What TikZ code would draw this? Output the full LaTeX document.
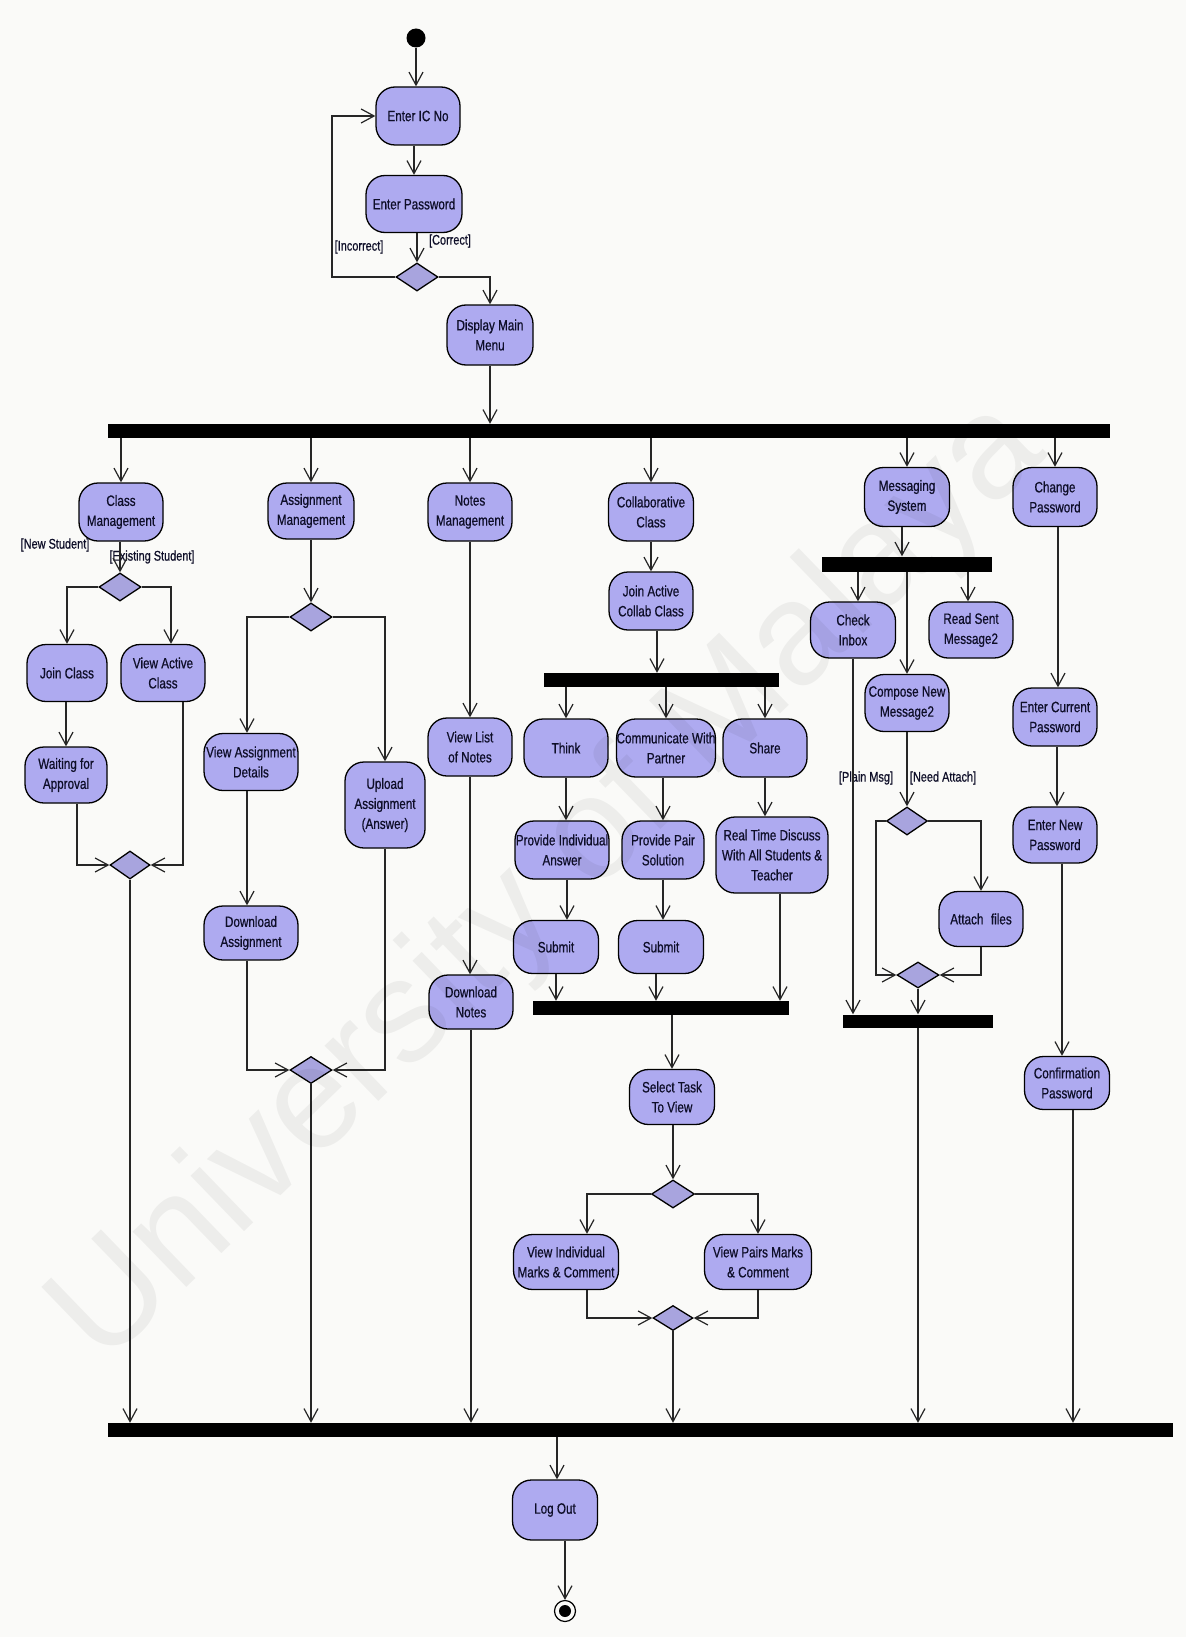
\documentclass[tikz,border=0pt]{standalone}
\usepackage{fontspec}
\usetikzlibrary{arrows.meta,shapes.geometric}
\newfontfamily\actfont[FakeStretch=0.78,FakeBold=0.6]{Liberation Sans}
\newfontfamily\wmfont{Liberation Sans}
\definecolor{actfill}{RGB}{174,170,240}
\definecolor{diafill}{RGB}{168,164,222}
\definecolor{ink}{RGB}{14,14,40}
\definecolor{paper}{RGB}{250,250,248}

\begin{document}
\begin{tikzpicture}[x=1pt,y=-1pt,
  act/.style={draw=black, fill=actfill, rounded corners=19pt, line width=1.3pt,
    inner sep=0pt, align=center, text=ink, font=\actfont\fontsize{15}{20}\selectfont},
  sz/.style 2 args={minimum width=#1pt, minimum height=#2pt},
  dia/.style={draw=black, fill=diafill, diamond, line width=1.3pt, inner sep=0pt,
    minimum width=42pt, minimum height=28pt},
  bar/.style={fill=black, inner sep=0pt, minimum height=14pt},
  flow/.style={line width=1.2pt, draw=black!85, -{Straight Barb[length=13pt,width=14pt]}},
  guard/.style={text=ink, inner sep=0pt, font=\actfont\fontsize{14}{16}\selectfont},
]
\useasboundingbox (0,0) rectangle (1186,1637);
\fill[paper] (0,0) rectangle (1186,1637);

% ---------- login ----------
\node[circle, fill=black, minimum size=19pt, inner sep=0pt] (start) at (416,38) {};
\node[act, sz={84}{58}] (ic) at (418,116) {Enter IC No};
\node[act, sz={96}{57}] (pw) at (414,204) {Enter Password};
\node[dia] (d1) at (417,277) {};
\node[act, sz={86}{60}] (menu) at (490,335) {Display Main\\Menu};
\coordinate (lp) at (332,277);
\node[guard] at (359,247) {[Incorrect]};
\node[guard] at (450,241) {[Correct]};

\draw[flow] (start) -- (start |- ic.north);
\draw[flow] (ic.south -| pw.north) -- (pw.north);
\draw[flow] (pw.south -| d1.north) -- (d1.north);
\draw[flow] (d1.west) -- (lp) |- (ic.west);
\draw[flow] (d1.east) -| (menu.north);

% ---------- main fork ----------
\node[bar, minimum width=1002pt] (fork1) at (609,431) {};
\draw[flow] (menu.south) -- (menu.south |- fork1.north);

\node[act, sz={84}{58}] (cm) at (121,512) {Class\\Management};
\node[act, sz={86}{56}] (am) at (311,511) {Assignment\\Management};
\node[act, sz={84}{58}] (nm) at (470,512) {Notes\\Management};
\node[act, sz={85}{58}] (cc) at (651,512) {Collaborative\\Class};
\node[act, sz={85}{59}] (ms) at (907,497) {Messaging\\System};
\node[act, sz={84}{59}] (cp) at (1055,497) {Change\\Password};

\foreach \n in {cm,am,nm,cc,ms,cp}
  \draw[flow] (\n.north |- fork1.south) -- (\n.north);

% ---------- final join ----------
\node[bar, minimum width=1065pt] (join) at (640.5,1430) {};

% ---------- class management ----------
\node[guard] at (55,545) {[New Student]};
\node[guard] at (152,557) {[Existing Student]};
\node[dia] (d2) at (120,587) {};
\node[act, sz={80}{57}] (jc) at (67,673) {Join Class};
\node[act, sz={84}{57}] (vac) at (163,673) {View Active\\Class};
\node[act, sz={82}{56}] (wfa) at (66,775) {Waiting for\\Approval};
\node[dia, minimum width=40pt] (m1) at (130,865) {};

\draw[flow] (cm.south -| d2.north) -- (d2.north);
\draw[flow] (d2.west) -| (jc.north);
\draw[flow] (d2.east) -| ([xshift=8pt]vac.north);
\draw[flow] (jc.south -| wfa.north) -- (wfa.north);
\draw[flow] ([xshift=11pt]wfa.south) |- (m1.west);
\draw[flow] ([xshift=20pt]vac.south) |- (m1.east);
\draw[flow] (m1.south) -- (m1.south |- join.north);

% ---------- assignment management ----------
\node[dia] (d3) at (311,617) {};
\node[act, sz={94}{57}] (vad) at (251,762) {View Assignment\\Details};
\node[act, sz={80}{86}] (upl) at (385,805) {Upload\\Assignment\\(Answer)};
\node[act, sz={94}{54}] (da) at (251,933) {Download\\Assignment};
\node[dia, minimum height=27pt] (m2) at (311,1070) {};

\draw[flow] (am.south -| d3.north) -- (d3.north);
\draw[flow] (d3.west) -| ([xshift=-4pt]vad.north);
\draw[flow] (d3.east) -| (upl.north);
\draw[flow] ([xshift=-4pt]vad.south) -- ([xshift=-4pt]da.north);
\draw[flow] ([xshift=-4pt]da.south) |- (m2.west);
\draw[flow] (upl.south) |- (m2.east);
\draw[flow] (m2.south) -- (m2.south |- join.north);

% ---------- notes management ----------
\node[act, sz={84}{58}] (vln) at (470,747) {View List\\of Notes};
\node[act, sz={84}{54}] (dn) at (471,1002) {Download\\Notes};

\draw[flow] (nm.south) -- (nm.south |- vln.north);
\draw[flow] (vln.south) -- (vln.south |- dn.north);
\draw[flow] (dn.south) -- (dn.south |- join.north);

% ---------- collaborative class ----------
\node[act, sz={84}{58}] (jac) at (651,601) {Join Active\\Collab Class};
\node[bar, minimum width=235pt] (fork2) at (661.5,680) {};
\node[act, sz={84}{58}] (think) at (566,748) {Think};
\node[act, sz={95}{58}] (cwp) at (666,748) {Communicate With\\Partner};
\node[act, sz={84}{58}] (share) at (765,748) {Share};
\node[act, sz={94}{58}] (pia) at (562,850) {Provide Individual\\Answer};
\node[act, sz={82}{58}] (pps) at (663,850) {Provide Pair\\Solution};
\node[act, sz={112}{76}] (rtd) at (772,855) {Real Time Discuss\\With All Students \&\\Teacher};
\node[act, sz={85}{53}] (sub1) at (556,947) {Submit};
\node[act, sz={85}{53}] (sub2) at (661,947) {Submit};
\node[bar, minimum width=256pt] (fork3) at (661,1008) {};
\node[act, sz={85}{55}] (stv) at (672,1097) {Select Task\\To View};
\node[dia, minimum width=43pt] (d4) at (673,1194) {};
\node[act, sz={105}{55}] (vim) at (566,1262) {View Individual\\Marks \& Comment};
\node[act, sz={107}{55}] (vpm) at (758,1262) {View Pairs Marks\\\& Comment};
\node[dia, minimum width=40pt, minimum height=25pt] (m3) at (673,1318) {};

\draw[flow] (cc.south) -- (cc.south |- jac.north);
\draw[flow] ([xshift=6pt]jac.south) -- ([xshift=6pt]jac.south |- fork2.north);
\foreach \n in {think,cwp,share}
  \draw[flow] (\n.north |- fork2.south) -- (\n.north);
\draw[flow] (think.south) -- (think.south |- pia.north);
\draw[flow] (cwp.south -| pps.north) -- (pps.north);
\draw[flow] (share.south) -- (share.south |- rtd.north);
\draw[flow] ([xshift=5pt]pia.south) -- ([xshift=5pt]pia.south |- sub1.north);
\draw[flow] (pps.south) -- (pps.south |- sub2.north);
\draw[flow] (sub1.south) -- (sub1.south |- fork3.north);
\draw[flow] ([xshift=-5pt]sub2.south) -- ([xshift=-5pt]sub2.south |- fork3.north);
\draw[flow] ([xshift=8pt]rtd.south) -- ([xshift=8pt]rtd.south |- fork3.north);
\draw[flow] (stv.north |- fork3.south) -- (stv.north);
\draw[flow] (stv.south -| d4.north) -- (d4.north);
\draw[flow] (d4.west) -| ([xshift=21pt]vim.north);
\draw[flow] (d4.east) -| (vpm.north);
\draw[flow] ([xshift=21pt]vim.south) |- (m3.west);
\draw[flow] (vpm.south) |- (m3.east);
\draw[flow] (m3.south) -- (m3.south |- join.north);

% ---------- messaging system ----------
\node[bar, minimum width=170pt, minimum height=15pt] (fork4) at (907,564) {};
\node[act, sz={85}{56}] (ci) at (853,630) {Check\\Inbox};
\node[act, sz={84}{56}] (rsm) at (971,630) {Read Sent\\Message2};
\node[act, sz={84}{57}] (cnm) at (907,703) {Compose New\\Message2};
\node[guard] at (866,778) {[Plain Msg]};
\node[guard] at (943,778) {[Need Attach]};
\node[dia, minimum width=41pt] (d5) at (907,821) {};
\node[act, sz={84}{55}] (af) at (981,919) {Attach\enspace files};
\node[dia, minimum height=26pt] (m4) at (918,975) {};
\node[bar, minimum width=150pt, minimum height=13pt] (fork5) at (918,1021) {};
\coordinate (pm) at (876,821);

\draw[flow] ([xshift=-5pt]ms.south) -- ([xshift=-5pt]ms.south |- fork4.north);
\draw[flow] ([xshift=5pt]ci.north |- fork4.south) -- ([xshift=5pt]ci.north);
\draw[flow] ([xshift=-3pt]rsm.north |- fork4.south) -- ([xshift=-3pt]rsm.north);
\draw[flow] (cnm.north |- fork4.south) -- (cnm.north);
\draw[flow] (cnm.south) -- (d5.north);
\draw[flow] (d5.east) -| (af.north);
\draw[flow] (d5.west) -- (pm) |- (m4.west);
\draw[flow] (af.south) |- (m4.east);
\draw[flow] (m4.south) -- (m4.south |- fork5.north);
\draw[flow] (ci.south) -- (ci.south |- fork5.north);
\draw[flow] (fork5.south) -- (fork5.south |- join.north);

% ---------- change password ----------
\node[act, sz={84}{58}] (ecp) at (1055,717) {Enter Current\\Password};
\node[act, sz={84}{56}] (enp) at (1055,835) {Enter New\\Password};
\node[act, sz={85}{53}] (cfp) at (1067,1083) {Confirmation\\Password};

\draw[flow] ([xshift=3pt]cp.south) -- ([xshift=3pt]cp.south |- ecp.north);
\draw[flow] ([xshift=2pt]ecp.south) -- ([xshift=2pt]ecp.south |- enp.north);
\draw[flow] ([xshift=7pt]enp.south) -- ([xshift=7pt]enp.south |- cfp.north);
\draw[flow] ([xshift=6pt]cfp.south) -- ([xshift=6pt]cfp.south |- join.north);

% ---------- log out ----------
\node[act, sz={85}{60}] (lo) at (555,1510) {Log Out};
\node[circle, draw=black, line width=1.2pt, fill=paper, minimum size=21pt, inner sep=0pt] (fin) at (565,1611) {};
\node[circle, fill=black, minimum size=12pt, inner sep=0pt] (fincore) at (fin) {};

\draw[flow] ([xshift=2pt]lo.north |- join.south) -- ([xshift=2pt]lo.north);
\draw[flow] (lo.south -| fin.north) -- (fin.north);

% ---------- watermark ----------
\node[rotate=44, text=black, opacity=0.05, inner sep=0pt,
      font=\wmfont\fontsize{146}{150}\selectfont] (wm) at (550,884) {University of Malaya};
\end{tikzpicture}
\end{document}
